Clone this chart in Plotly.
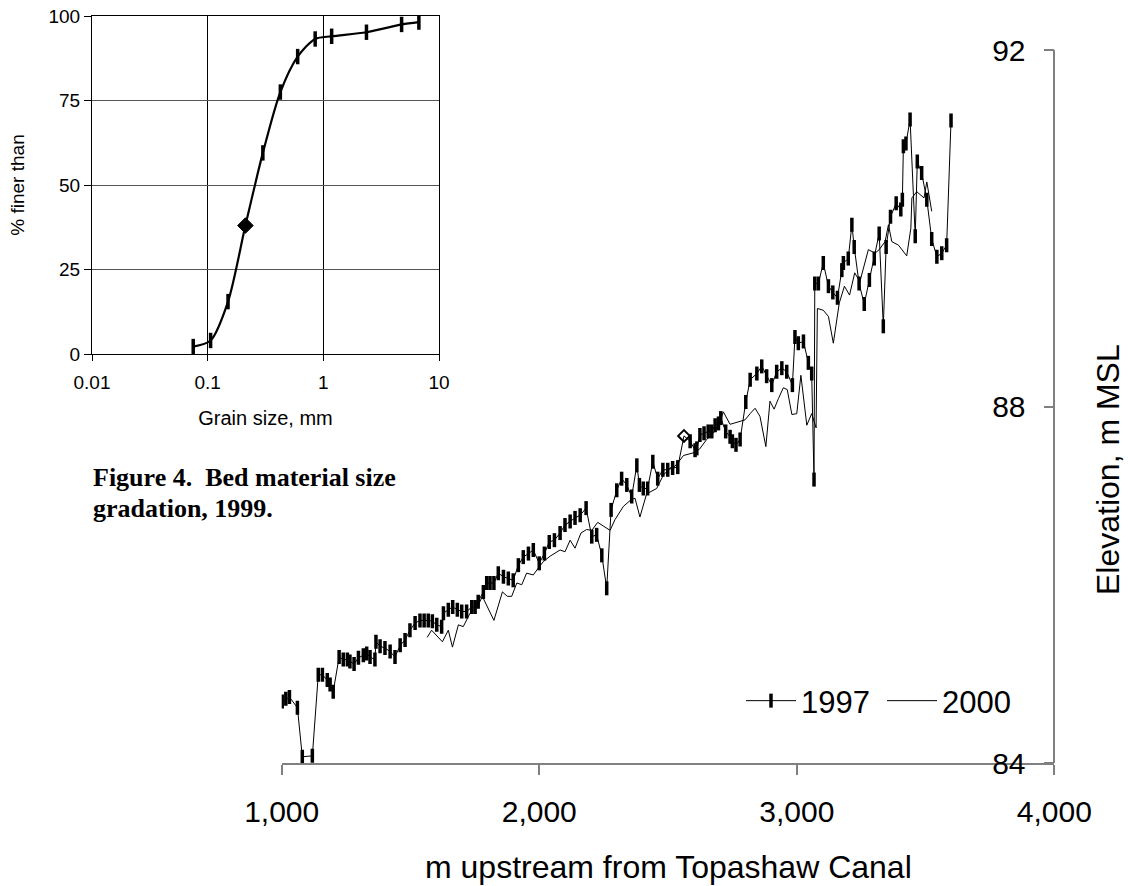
import plotly.graph_objects as go

# ---------------- data: main profile ----------------
x_1997 = [1002, 1016, 1030, 1061, 1080, 1119, 1142, 1158, 1177, 1188, 1200, 1223, 1239, 1255, 1265,
          1281, 1298, 1317, 1330, 1343, 1362, 1366, 1382, 1401, 1421, 1440, 1460, 1479, 1498, 1518,
          1537, 1553, 1569, 1585, 1602, 1621, 1628, 1647, 1664, 1682, 1699, 1718, 1738, 1751, 1763,
          1783, 1796, 1809, 1824, 1841, 1861, 1880, 1899, 1919, 1938, 1958, 1977, 2000, 2020, 2039,
          2059, 2081, 2100, 2120, 2139, 2159, 2182, 2204, 2223, 2243, 2262, 2279, 2301, 2320, 2340,
          2359, 2379, 2389, 2404, 2421, 2441, 2460, 2480, 2499, 2518, 2538, 2562, 2586, 2605, 2612,
          2624, 2640, 2656, 2670, 2683, 2696, 2705, 2724, 2741, 2750, 2764, 2780, 2802, 2819, 2845,
          2864, 2883, 2903, 2922, 2942, 2961, 2983, 2993, 3006, 3026, 3045, 3058, 3067, 3070, 3084,
          3103, 3123, 3140, 3158, 3175, 3181, 3200, 3214, 3223, 3242, 3262, 3282, 3301, 3320, 3336,
          3347, 3364, 3386, 3404, 3410, 3414, 3424, 3440, 3460, 3468, 3485, 3505, 3524, 3544, 3563,
          3582, 3599]
y_1997 = [84.69, 84.72, 84.74, 84.62, 84.07, 84.08, 84.99, 84.99, 84.93, 84.88, 84.80, 85.19, 85.16, 85.16, 85.14,
          85.11, 85.18, 85.21, 85.23, 85.19, 85.16, 85.36, 85.31, 85.29, 85.25, 85.19, 85.32, 85.38, 85.49, 85.57,
          85.60, 85.60, 85.60, 85.59, 85.55, 85.53, 85.68, 85.72, 85.75, 85.72, 85.70, 85.70, 85.75, 85.75, 85.81,
          85.92, 86.02, 86.02, 86.02, 86.13, 86.09, 86.07, 86.05, 86.22, 86.31, 86.35, 86.39, 86.24, 86.35, 86.48,
          86.50, 86.58, 86.67, 86.71, 86.75, 86.78, 86.86, 86.54, 86.56, 86.33, 85.96, 86.84, 87.06, 87.19, 87.12,
          86.99, 87.34, 87.12, 87.08, 87.08, 87.38, 87.19, 87.29, 87.29, 87.31, 87.32, 87.67, 87.61, 87.51, 87.53,
          87.68, 87.70, 87.72, 87.72, 87.79, 87.81, 87.87, 87.72, 87.66, 87.61, 87.57, 87.63, 88.05, 88.30, 88.37,
          88.45, 88.34, 88.24, 88.39, 88.43, 88.39, 88.24, 88.78, 88.71, 88.73, 88.49, 88.37, 87.18, 89.38, 89.38,
          89.61, 89.35, 89.28, 89.22, 89.53, 89.61, 89.66, 90.04, 89.79, 89.38, 89.15, 89.42, 89.66, 89.94, 88.90,
          89.79, 90.13, 90.28, 90.21, 90.32, 90.92, 90.95, 91.22, 89.91, 90.75, 90.62, 90.32, 89.88, 89.68, 89.72,
          89.81, 91.21]
sample_site_x = 2562  # open diamond marker on the 1997 profile

x_2000 = [1565, 1582, 1624, 1647, 1663, 1686, 1705, 1731, 1760, 1779, 1824, 1857, 1876, 1893, 1913,
          1932, 1951, 1977, 1997, 2016, 2042, 2061, 2081, 2100, 2120, 2139, 2162, 2184, 2204, 2227,
          2249, 2275, 2294, 2327, 2359, 2372, 2391, 2417, 2456, 2482, 2508, 2527, 2547, 2560, 2598,
          2622, 2650, 2676, 2696, 2715, 2741, 2780, 2799, 2819, 2838, 2857, 2880, 2896, 2912, 2929,
          2948, 2963, 2981, 3000, 3016, 3039, 3058, 3075, 3080, 3103, 3123, 3142, 3165, 3185, 3205,
          3225, 3245, 3278, 3304, 3320, 3343, 3356, 3369, 3395, 3427, 3443, 3447, 3466, 3494, 3505,
          3524]
y_2000 = [85.41, 85.49, 85.36, 85.49, 85.30, 85.55, 85.53, 85.68, 85.75, 85.87, 85.60, 85.92, 85.87, 85.87, 86.02,
          86.00, 86.13, 86.11, 86.19, 86.26, 86.32, 86.35, 86.39, 86.37, 86.50, 86.41, 86.58, 86.62, 86.61, 86.70,
          86.66, 86.61, 86.73, 86.88, 86.96, 86.97, 86.76, 87.02, 87.08, 87.23, 87.31, 87.33, 87.40, 87.45, 87.48,
          87.52, 87.63, 87.70, 87.79, 87.94, 87.80, 87.83, 87.85, 87.92, 87.98, 87.89, 87.55, 88.06, 87.97, 88.09,
          88.21, 88.19, 87.91, 87.92, 88.35, 87.79, 87.92, 87.76, 89.10, 89.08, 89.01, 88.71, 89.16, 89.35, 89.25,
          89.50, 89.40, 89.76, 89.72, 89.76, 89.85, 90.04, 89.85, 89.81, 89.69, 90.00, 90.34, 90.41, 90.34, 90.52,
          90.19]

x_ticks_main = [1000, 2000, 3000, 4000]
y_ticks_main = [84, 88, 92]

# ---------------- data: inset gradation ----------------
grain_mm = [0.075, 0.106, 0.15, 0.212, 0.3, 0.425, 0.6, 0.85, 1.18, 2.36, 4.75, 6.7]
pct_finer = [2.2, 4.0, 15.5, 38.0, 59.5, 77.5, 88.0, 93.2, 94.0, 95.2, 97.5, 98.2]
median_idx = 3  # point drawn as a filled diamond
inset_xticks = [0.01, 0.1, 1, 10]
inset_xticktext = ["0.01", "0.1", "1", "10"]
inset_yticks = [0, 25, 50, 75, 100]

W, H = 1128, 886
FONT = "Liberation Sans, Arial, sans-serif"
SERIF = "Liberation Serif, Times New Roman, serif"

def px_x(p):
    return p / W

def px_y(p):
    return (H - p) / H

sym_1997 = ["diamond-open" if xv == sample_site_x else "line-ns" for xv in x_1997]
size_1997 = [9 if xv == sample_site_x else 10 for xv in x_1997]
lw_1997 = [2 if xv == sample_site_x else 3.5 for xv in x_1997]

sym_in = ["diamond" if i == median_idx else "line-ns" for i in range(len(grain_mm))]
size_in = [12 if i == median_idx else 11 for i in range(len(grain_mm))]
lw_in = [1 if i == median_idx else 3.5 for i in range(len(grain_mm))]

fig = go.Figure()
fig.add_trace(go.Scatter(
    x=x_1997, y=y_1997, mode="lines+markers", name="1997",
    line=dict(color="black", width=1),
    marker=dict(symbol=sym_1997, size=size_1997, color="black", opacity=1,
                line=dict(color="black", width=lw_1997)),
    xaxis="x", yaxis="y"))
fig.add_trace(go.Scatter(
    x=x_2000, y=y_2000, mode="lines", name="2000",
    line=dict(color="black", width=1),
    xaxis="x", yaxis="y"))
fig.add_trace(go.Scatter(
    x=grain_mm, y=pct_finer, mode="lines+markers", showlegend=False,
    line=dict(color="black", width=2.2, shape="spline", smoothing=0.8),
    marker=dict(symbol=sym_in, size=size_in, color="black", opacity=1,
                line=dict(color="black", width=lw_in)),
    xaxis="x2", yaxis="y2"))

fig.update_layout(
    width=W, height=H, autosize=False,
    margin=dict(l=0, r=0, t=0, b=0, autoexpand=False),
    paper_bgcolor="white", plot_bgcolor="rgba(0,0,0,0)",
    font=dict(family=FONT, color="black"),
    showlegend=True,
    legend=dict(orientation="h", x=px_x(741), y=px_y(701), xanchor="left", yanchor="middle",
                font=dict(size=31, family=FONT), bgcolor="rgba(0,0,0,0)",
                itemwidth=50, entrywidth=76, entrywidthmode="pixels", traceorder="normal"),
    xaxis=dict(domain=[px_x(281.7), px_x(1054.3)], range=[1000, 4000], anchor="y",
               showline=True, linecolor="#808080", linewidth=1.5,
               ticks="outside", ticklen=10, tickcolor="#808080", tickwidth=1.5,
               tickvals=x_ticks_main, tickformat=",d", ticklabelstandoff=11,
               tickfont=dict(size=30), showgrid=False, zeroline=False, automargin=False),
    yaxis=dict(domain=[px_y(763), px_y(50)], range=[84, 92], anchor="free",
               position=px_x(1054.3), side="left",
               showline=True, linecolor="#808080", linewidth=1.5,
               ticks="outside", ticklen=10, tickcolor="#808080", tickwidth=1.5,
               tickvals=y_ticks_main, ticklabelstandoff=12,
               tickfont=dict(size=30), showgrid=False, zeroline=False, automargin=False),
    xaxis2=dict(domain=[px_x(92), px_x(439)], type="log", range=[-2, 1], anchor="y2",
                showline=True, mirror=True, linecolor="black", linewidth=1,
                ticks="outside", ticklen=6, tickcolor="black",
                tickvals=inset_xticks, ticktext=inset_xticktext, ticklabelstandoff=5,
                tickfont=dict(size=19), showgrid=True, gridcolor="black", gridwidth=1,
                zeroline=False, automargin=False,
                title=dict(text="Grain size, mm", font=dict(size=20), standoff=19)),
    yaxis2=dict(domain=[px_y(354), px_y(16)], range=[0, 100], anchor="x2",
                showline=True, mirror=True, linecolor="black", linewidth=1,
                ticks="outside", ticklen=7, tickcolor="black",
                tickvals=inset_yticks, tickfont=dict(size=19),
                showgrid=True, gridcolor="#555555", gridwidth=1, zeroline=False,
                automargin=False,
                title=dict(text="% finer than", font=dict(size=19), standoff=18)),
    annotations=[
        dict(text="m upstream from Topashaw Canal", x=px_x(668), y=px_y(867),
             xref="paper", yref="paper", xanchor="center", yanchor="middle", showarrow=False,
             font=dict(family=FONT, size=32, color="black")),
        dict(text="Elevation, m MSL", x=px_x(1108), y=px_y(470), textangle=-90,
             xref="paper", yref="paper", xanchor="center", yanchor="middle", showarrow=False,
             font=dict(family=FONT, size=32, color="black")),
        dict(text="<b>Figure 4.  Bed material size</b>", x=px_x(91), y=px_y(477),
             xref="paper", yref="paper", xanchor="left", yanchor="middle", showarrow=False,
             font=dict(family=SERIF, size=26, color="black")),
        dict(text="<b>gradation, 1999.</b>", x=px_x(91), y=px_y(508),
             xref="paper", yref="paper", xanchor="left", yanchor="middle", showarrow=False,
             font=dict(family=SERIF, size=26, color="black")),
    ],
)

fig.write_html("out.html", config={"displayModeBar": False},
               post_script="document.body.style.margin='0';")
